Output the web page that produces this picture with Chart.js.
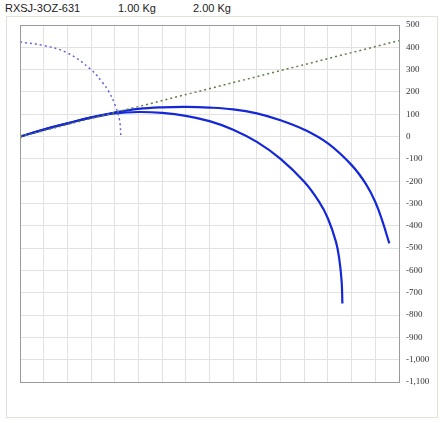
<!DOCTYPE html>
<html>
<head>
<meta charset="utf-8">
<script src="https://cdn.jsdelivr.net/npm/chart.js@4"></script>
<style>
  body { margin: 0; background: #fff; }
  #wrap { position: absolute; left: 0; top: 0; width: 444px; height: 423px; }
  #frame { position: absolute; left: 6px; top: 16px; width: 430px; height: 400px; border: 1px solid #dde4d8; }
  .lbl { position: absolute; top: 2px; font: 11px "Liberation Sans", Arial, sans-serif; color: #222; }
</style>
</head>
<body>
<div id="wrap">
  <div id="frame"></div>
  <div class="lbl" style="left:5px">RXSJ-3OZ-631</div>
  <div class="lbl" style="left:118px">1.00 Kg</div>
  <div class="lbl" style="left:193px">2.00 Kg</div>
  <canvas id="myChart" width="444" height="423" style="position:absolute;left:0;top:0"></canvas>
</div>
<script>
// values
const yTicks = [500, 400, 300, 200, 100, 0, -100, -200, -300, -400, -500, -600, -700, -800, -900, -1000, -1100];

// 1.00 Kg trajectory
const curve1X = [0, 1, 2, 3, 4, 5, 6, 7, 8, 9, 10, 11, 12, 12.63, 13, 13.34, 13.48, 13.58, 13.61];
const curve1Y = [0, 31, 59, 85, 104, 110, 106, 93, 69, 31, -24, -100, -203, -293, -367, -472, -550, -651, -748];

// 2.00 Kg trajectory
const curve2X = [0, 1, 2, 3, 4, 5, 6, 7, 8, 9, 10, 11, 12, 13, 14, 14.6, 15, 15.31, 15.59];
const curve2Y = [0, 31, 59, 86, 108, 124, 131, 133, 130, 122, 104, 73, 31, -31, -128, -212, -293, -382, -479];

// dotted quarter arc
const arcX = [0, 1, 2, 3, 3.5, 3.73, 4, 4.2, 4.26];
const arcY = [424, 408, 375, 300, 240, 205, 145, 75, 0];

// dotted straight line
const lineX = [0, 16];
const lineY = [0, 430];

function pts(xs, ys) {
    return xs.map((x, i) => ({ x: x, y: ys[i] }));
}

// Draws the dark border round the plot area
const plotBorder = {
    id: 'plotBorder',
    afterDraw(chart) {
        const a = chart.chartArea;
        const c = chart.ctx;
        c.save();
        c.strokeStyle = '#9a9a9a';
        c.lineWidth = 1;
        c.strokeRect(a.left + 0.5, a.top + 0.5, a.right - a.left, a.bottom - a.top);
        c.restore();
    }
};

const ctx = document.getElementById('myChart').getContext('2d');
new Chart(ctx, {
    type: 'scatter',
    data: {
        datasets: [
            {
                data: pts(lineX, lineY),
                showLine: true,
                borderColor: 'rgba(95, 125, 70, 1)',
                borderWidth: 1.5,
                borderDash: [2, 3],
                pointRadius: (c) => c.dataIndex === 0 ? 1.5 : 0,
                pointStyle: 'rect',
                pointBackgroundColor: 'rgba(95, 125, 70, 1)',
                pointBorderColor: 'rgba(95, 125, 70, 1)'
            },
            {
                data: pts(arcX, arcY),
                showLine: true,
                borderColor: 'rgba(100, 100, 215, 1)',
                borderWidth: 1.5,
                borderDash: [2, 3],
                pointRadius: 0,
                tension: 0.4
            },
            {
                data: pts(curve1X, curve1Y),
                showLine: true,
                borderColor: 'rgba(20, 40, 215, 1)',
                borderWidth: 2.2,
                pointRadius: 0,
                tension: 0.4
            },
            {
                data: pts(curve2X, curve2Y),
                showLine: true,
                borderColor: 'rgba(20, 40, 215, 1)',
                borderWidth: 2.2,
                pointRadius: 0,
                tension: 0.4
            }
        ]
    },
    options: {
        responsive: false,
        animation: false,
        layout: { padding: { left: 20, top: 25, bottom: 41, right: 4 } },
        plugins: {
            legend: { display: false },
            tooltip: { enabled: false }
        },
        scales: {
            x: {
                type: 'linear',
                min: 0,
                max: 16,
                ticks: { display: false, stepSize: 1 },
                grid: { color: '#e2e2e2', drawTicks: false },
                border: { display: false }
            },
            y: {
                position: 'right',
                min: -1100,
                max: 500,
                afterBuildTicks: (scale) => { scale.ticks = yTicks.map(v => ({ value: v })); },
                afterFit: (scale) => { scale.width = 41; },
                ticks: {
                    padding: 7,
                    color: '#333',
                    font: { family: '"Liberation Serif", "Times New Roman", serif', size: 9 },
                    callback: (v) => v.toLocaleString('en-US')
                },
                grid: { color: '#e2e2e2', drawTicks: false },
                border: { display: false }
            }
        }
    },
    plugins: [plotBorder]
});
</script>
</body>
</html>
